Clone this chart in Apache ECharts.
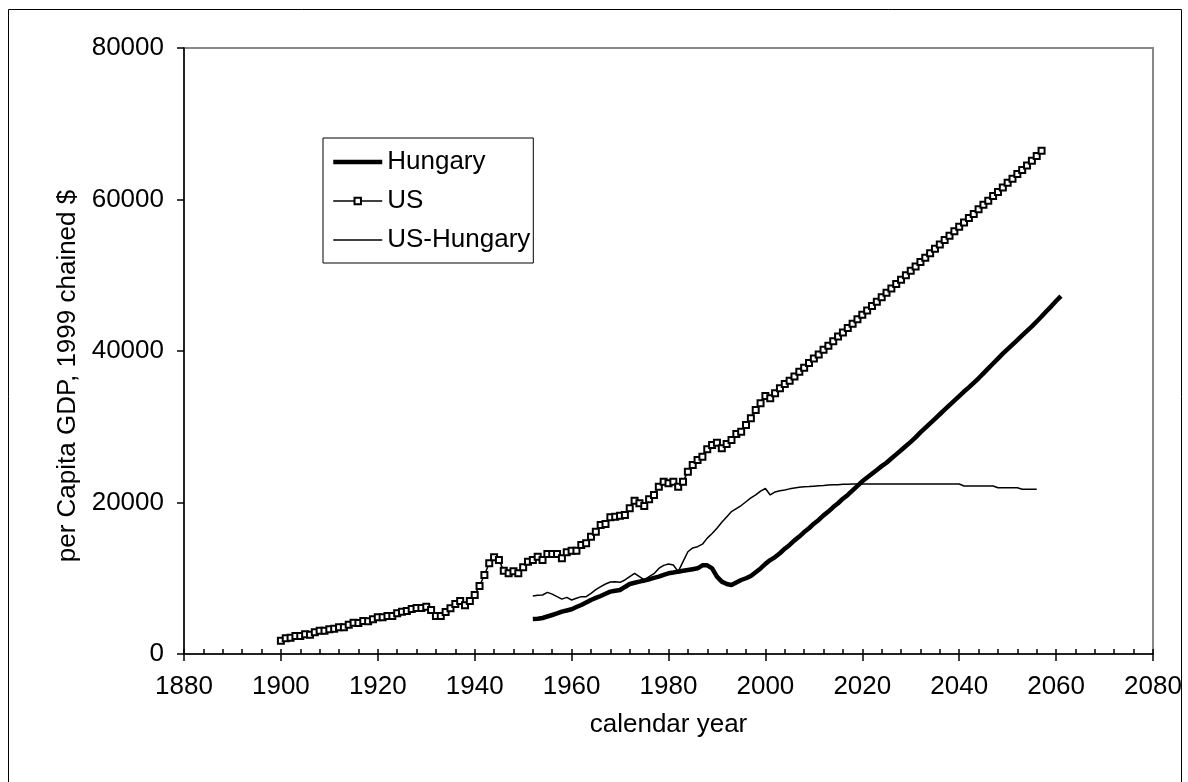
<!DOCTYPE html>
<html>
<head>
<meta charset="utf-8">
<script src="https://cdn.jsdelivr.net/npm/echarts@6/dist/echarts.min.js"></script>
<style>
html, body { margin: 0; padding: 0; background: #fff; }
#chart { width: 1188px; height: 782px; }
</style>
</head>
<body>
<div id="chart"></div>
<script>
// x axis range / ticks
const xMin = 1880, xMax = 2080, xStep = 20, xMinorStep = 4;
const yMin = 0, yMax = 80000, yStep = 20000;

// US, yearly from 1900 to 2057
const usStart = 1900;
const usValues = [
  1760, 2070, 2160, 2380, 2380, 2600, 2550, 2860, 3080, 3080,
  3260, 3340, 3520, 3520, 3870, 4140, 4090, 4360, 4310, 4580,
  4840, 4840, 5020, 5020, 5370, 5590, 5680, 5940, 6070, 6070,
  6250, 5810, 5020, 5020, 5540, 6030, 6600, 7000, 6430, 7000,
  7790, 8980, 10430, 11970, 12760, 12410, 11000, 10650, 10910, 10650,
  11440, 12190, 12410, 12850, 12410, 13200, 13200, 13200, 12630, 13420,
  13640, 13640, 14390, 14610, 15490, 16150, 17030, 17160, 18040, 18130,
  18260, 18350, 19230, 20240, 19890, 19540, 20420, 20990, 22090, 22750,
  22530, 22750, 22090, 22750, 24070, 24950, 25610, 26050, 27020, 27590,
  27900, 27150, 27720, 28250, 29040, 29350, 30230, 31110, 32210, 33090,
  34060, 33750, 34410, 35070, 35640, 36080, 36650, 37250, 37800, 38400,
  39000, 39550, 40150, 40700, 41300, 41900, 42450, 43050, 43600, 44200,
  44800, 45350, 45950, 46500, 47100, 47700, 48250, 48850, 49400, 50000,
  50600, 51150, 51750, 52300, 52900, 53500, 54050, 54650, 55200, 55800,
  56400, 56950, 57550, 58100, 58700, 59300, 59850, 60450, 61000, 61600,
  62200, 62750, 63350, 63900, 64500, 65100, 65750, 66450
];

// Hungary, yearly from 1952 to 2061
const huStart = 1952;
const huValues = [
  4620, 4650, 4750, 4950, 5150, 5350, 5590, 5750, 5900, 6200,
  6470, 6800, 7130, 7400, 7660, 7950, 8230, 8350, 8450, 8850,
  9240, 9400, 9550, 9700, 9860, 10050, 10210, 10450, 10650, 10750,
  10870, 10980, 11090, 11200, 11310, 11700, 11700, 11310, 10210, 9550,
  9250, 9110, 9450, 9770, 10000, 10300, 10800, 11300, 11900, 12400,
  12800, 13300, 13900, 14400, 15000, 15500, 16100, 16600, 17200, 17700,
  18300, 18800, 19400, 19900, 20500, 21000, 21600, 22200, 22800, 23300,
  23800, 24300, 24800, 25250, 25800, 26350, 26900, 27450, 28000, 28600,
  29250, 29850, 30450, 31050, 31650, 32250, 32850, 33450, 34050, 34650,
  35200, 35800, 36400, 37050, 37700, 38350, 39000, 39650, 40250, 40850,
  41450, 42050, 42650, 43250, 43900, 44550, 45250, 45900, 46600, 47250
];

// US-Hungary, yearly from 1952 to 2057
const gapStart = 1952;
const gapValues = [
  7660, 7750, 7790, 8140, 7900, 7570, 7250, 7480, 7130, 7350,
  7570, 7570, 8010, 8500, 8900, 9240, 9500, 9550, 9460, 9770,
  10210, 10650, 10210, 9770, 10210, 10600, 11300, 11700, 11880, 11750,
  10870, 12190, 13500, 14000, 14170, 14500, 15300, 15900, 16600, 17400,
  18100, 18800, 19200, 19600, 20100, 20600, 21000, 21500, 21850, 21000,
  21400, 21550, 21650, 21800, 21900, 22000, 22090, 22100, 22150, 22200,
  22250, 22310, 22330, 22350, 22400, 22420, 22440, 22440, 22440, 22440,
  22440, 22440, 22440, 22440, 22440, 22440, 22440, 22440, 22440, 22440,
  22440, 22440, 22440, 22440, 22440, 22440, 22440, 22440, 22440, 22180,
  22180, 22180, 22180, 22180, 22180, 22180, 21950, 21950, 21950, 21950,
  21950, 21740, 21740, 21740, 21740
];

function pairs(start, vals) {
  return vals.map((v, i) => [start + i, v]);
}

const font = 'Liberation Sans, Arial, sans-serif';
const fontSize = 26;

let chart = echarts.init(document.getElementById('chart'), null, { renderer: 'canvas' });
chart.setOption({
  animation: false,
  backgroundColor: '#fff',
  graphic: [{
    type: 'rect',
    shape: { x: 8.5, y: 9.5, width: 1173, height: 800 },
    style: { fill: 'none', stroke: '#000', lineWidth: 1 },
    silent: true
  }],
  grid: {
    left: 184, top: 48, right: 35, bottom: 128,
    show: true,
    borderColor: '#888',
    borderWidth: 2,
    backgroundColor: '#fff'
  },
  legend: {
    orient: 'vertical',
    left: 323,
    top: 138,
    padding: [11, 3, 10, 8],
    itemWidth: 49,
    itemHeight: 8,
    itemGap: 13,
    borderColor: '#000',
    borderWidth: 1,
    backgroundColor: '#fff',
    textStyle: { fontFamily: font, fontSize: fontSize, color: '#000' },
    data: [
      // line only in the legend: hide the default symbol
      { name: 'Hungary', lineStyle: { width: 4.5, color: '#000' }, itemStyle: { opacity: 0 } },
      { name: 'US', lineStyle: { width: 1.5, color: '#000' } },
      { name: 'US-Hungary', lineStyle: { width: 1.5, color: '#000' }, itemStyle: { opacity: 0 } }
    ]
  },
  xAxis: [
    {
      type: 'value',
      min: xMin, max: xMax, interval: xStep,
      name: 'calendar year',
      nameLocation: 'middle',
      nameGap: 58,
      nameTextStyle: { fontFamily: font, fontSize: fontSize, color: '#000' },
      axisLine: { show: true, lineStyle: { color: '#000', width: 1.5 } },
      axisTick: { show: true, inside: false, length: 7, lineStyle: { color: '#000', width: 1.5 } },
      axisLabel: {
        margin: 20, fontFamily: font, fontSize: fontSize, color: '#000',
        formatter: v => String(v)
      },
      splitLine: { show: false }
    },
    {
      // minor ticks every 4 years, drawn inside the plot
      type: 'value',
      min: xMin, max: xMax, interval: xMinorStep,
      position: 'bottom',
      axisLine: { show: false },
      axisTick: { show: true, inside: true, length: 5, lineStyle: { color: '#000', width: 1.5 } },
      axisLabel: { show: false },
      splitLine: { show: false }
    }
  ],
  yAxis: {
    type: 'value',
    min: yMin, max: yMax, interval: yStep,
    name: 'per Capita GDP, 1999 chained $',
    nameLocation: 'middle',
    nameGap: 103,
    nameTextStyle: { fontFamily: font, fontSize: fontSize, color: '#000', padding: [0, 50, 0, 0] },
    axisLine: { show: true, lineStyle: { color: '#000', width: 1.5 } },
    axisTick: { show: true, inside: false, length: 7, lineStyle: { color: '#000', width: 1.5 } },
    axisLabel: {
      margin: 20, fontFamily: font, fontSize: fontSize, color: '#000',
      formatter: v => String(v)
    },
    splitLine: { show: false }
  },
  series: [
    {
      name: 'Hungary',
      type: 'line',
      data: pairs(huStart, huValues),
      symbol: 'none',
      lineStyle: { color: '#000', width: 4.5 },
      itemStyle: { color: '#000' },
      z: 3
    },
    {
      name: 'US',
      type: 'line',
      data: pairs(usStart, usValues),
      symbol: 'rect',
      symbolSize: 6,
      showSymbol: true,
      lineStyle: { color: '#000', width: 1.5 },
      itemStyle: { color: '#fff', borderColor: '#000', borderWidth: 2 },
      z: 4
    },
    {
      name: 'US-Hungary',
      type: 'line',
      data: pairs(gapStart, gapValues),
      symbol: 'none',
      lineStyle: { color: '#000', width: 1.5 },
      itemStyle: { color: '#000' },
      z: 2
    }
  ]
});

window.onresize = function () {
  chart.resize();
};
</script>
</body>
</html>
